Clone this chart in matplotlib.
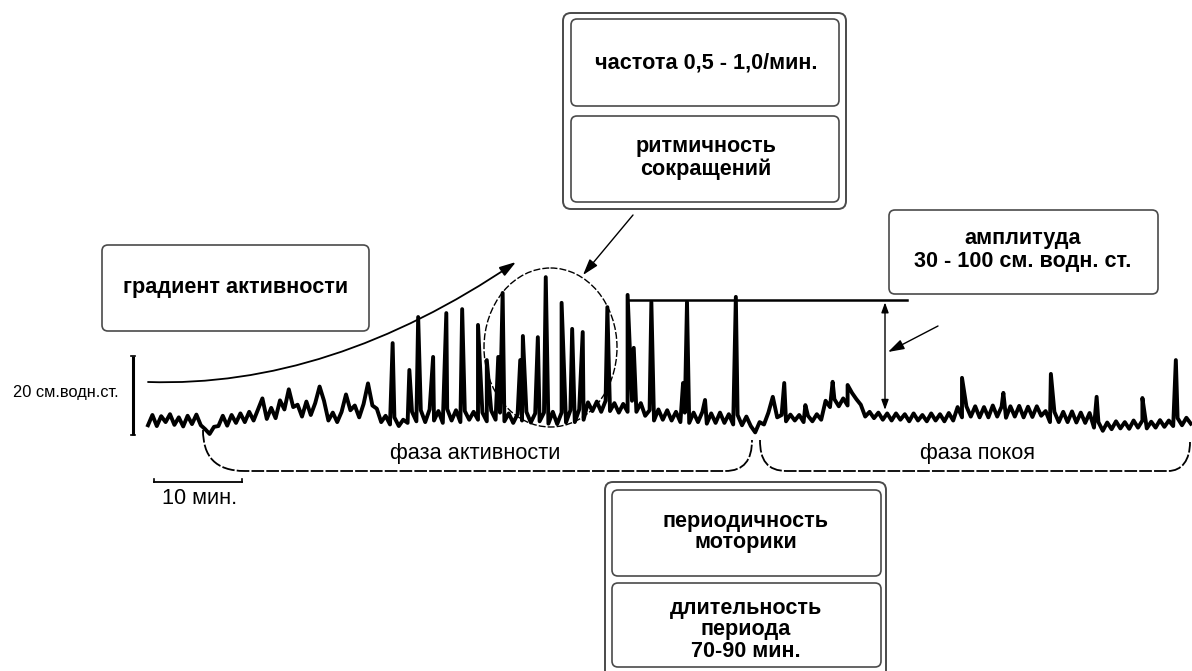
import numpy as np
import matplotlib
matplotlib.use("Agg")
import matplotlib.pyplot as plt
from matplotlib.patches import FancyBboxPatch, Ellipse, FancyArrowPatch, PathPatch
from matplotlib.path import Path

plt.rcParams['font.family'] = ['Liberation Sans', 'DejaVu Sans']

# ---------------------------------------------------------------
# Manometric record of the migrating motor complex
# pressure in cm H2O, sampled every 0.5 min
# ---------------------------------------------------------------
SAMPLE_STEP_MIN = 0.5
baseline_cm = [
    1.2, 3.8, 1.0, 3.5, 2.0, 4.0, 1.3, 3.2, 0.9, 3.6,
    1.5, 3.9, 1.2, 0.2, -1.0, 0.8, 1.0, 3.6, 1.1, 3.8,
    1.8, 4.2, 2.0, 4.6, 2.4, 5.2, 8.0, 2.8, 5.6, 3.0,
    7.5, 5.2, 10.3, 5.8, 6.4, 3.4, 7.2, 3.8, 6.8, 11.0,
    7.4, 2.4, 4.4, 2.0, 4.6, 9.0, 5.0, 6.2, 3.2, 6.6,
    11.8, 6.2, 5.4, 2.0, 3.6, 1.4, 3.2, 1.0, 2.6, 1.8,
    4.6, 2.2, 5.0, 2.0, 5.2, 2.4, 4.8, 1.8, 5.3, 2.4,
    5.0, 2.0, 4.8, 2.6, 4.6, 2.6, 4.4, 2.2, 4.9, 2.6,
    4.4, 2.2, 4.2, 1.8, 4.0, 2.4, 4.6, 1.9, 4.2, 2.2,
    4.4, 1.6, 4.6, 1.5, 4.4, 1.9, 5.0, 2.0, 5.2, 2.6,
    7.0, 4.8, 7.2, 4.6, 7.4, 4.8, 6.8, 4.4, 6.6, 4.6,
    7.4, 4.6, 6.8, 3.6, 5.0, 2.4, 5.2, 2.6, 5.0, 2.4,
    4.6, 2.0, 4.4, 1.8, 4.4, 2.0, 4.6, 1.6, 4.2, 1.8,
    4.4, 1.8, 4.0, 1.4, 3.8, 1.2, 3.4, 1.0, -0.6, 2.0,
    1.4, 4.4, 8.4, 3.2, 3.8, 2.2, 3.9, 2.4, 3.8, 2.0,
    3.6, 2.2, 4.0, 2.6, 7.4, 5.8, 7.8, 6.0, 8.0, 6.2,
    9.4, 7.8, 6.4, 3.4, 4.6, 3.0, 4.4, 2.6, 4.2, 2.4,
    4.2, 2.6, 4.0, 2.2, 4.2, 2.4, 3.8, 2.2, 4.2, 2.4,
    4.0, 2.2, 4.3, 2.4, 5.8, 3.2, 6.0, 3.4, 6.0, 3.2,
    5.8, 3.2, 6.2, 3.4, 5.9, 3.1, 6.0, 3.4, 6.1, 3.2,
    5.9, 3.3, 6.0, 3.6, 4.8, 2.0, 4.6, 2.0, 4.6, 2.0,
    4.7, 1.9, 4.4, 1.8, 4.3, 0.6, 2.0, -0.2, 1.9, 0.2,
    2.2, 0.4, 2.0, 0.3, 2.4, 0.6, 2.4, 0.4, 2.1, 0.6,
    2.5, 0.8, 2.4, 1.0, 3.0, 1.2, 3.1, 1.6,
]

# contraction peaks: time (min) and peak pressure (cm H2O)
spike_time_min = [
    27.8, 29.7, 30.7, 32.4, 33.9, 35.7, 37.5, 38.5, 39.8, 40.3,
    42.3, 42.6, 44.3, 45.2, 47.0, 48.2, 49.4, 52.2, 54.5, 55.2,
    57.2, 60.8, 61.25, 63.3, 66.8, 72.3, 74.7, 77.8, 79.5, 92.5,
    97.2, 102.6, 107.8, 113.0, 116.8,
]
spike_peak_cm = [
    22.0, 15.2, 28.6, 18.5, 29.6, 30.6, 26.6, 17.7, 18.5, 34.7,
    17.7, 23.8, 23.5, 38.7, 32.2, 25.6, 24.8, 31.1, 34.2, 20.8,
    32.4, 11.9, 32.4, 7.6, 33.7, 11.9, 6.3, 12.2, 11.4, 13.2,
    9.4, 14.2, 8.4, 8.1, 17.7,
]

# calibration bars and amplitude marker
TIME_BAR_MIN = 10
PRESSURE_BAR_CM = 20
amplitude_level_cm = 32.9
amplitude_line_end_min = 86.25
amplitude_arrow_min = 83.75
amplitude_arrow_base_cm = 5.1

# ---------------------------------------------------------------
W, H = 1192, 671
fig = plt.figure(figsize=(W / 100, H / 100), dpi=100)
fig.patch.set_facecolor('white')

# record axes (minutes / cm H2O)
ax = fig.add_axes([0, 0, 1, 1])
x0_px, px_per_min = 148.0, 8.8
y0_px, px_per_cm = 430.0, 3.95
ax.set_xlim(-x0_px / px_per_min, (W - x0_px) / px_per_min)
ax.set_ylim((y0_px - H) / px_per_cm, y0_px / px_per_cm)
ax.axis('off')

# overlay axes for the annotation layout (pixel units, y downward)
ov = fig.add_axes([0, 0, 1, 1])
ov.set_xlim(0, W)
ov.set_ylim(H, 0)
ov.axis('off')
ov.patch.set_alpha(0)

# --- the trace
t_base = np.arange(len(baseline_cm)) * SAMPLE_STEP_MIN
t_all = np.concatenate([t_base, spike_time_min])
p_all = np.concatenate([baseline_cm, spike_peak_cm])
order = np.argsort(t_all, kind='stable')
ax.plot(t_all[order], p_all[order], color='black', lw=2.8,
        solid_joinstyle='round', zorder=3)

# --- calibration bars
bar_t = -1.7
bar_p0 = -1.27
ax.plot([bar_t, bar_t], [bar_p0, bar_p0 + PRESSURE_BAR_CM], color='black', lw=2.2,
        solid_capstyle='butt')
for pp in (bar_p0, bar_p0 + PRESSURE_BAR_CM):
    ax.plot([bar_t - 0.25, bar_t + 0.25], [pp, pp], color='black', lw=1.2)
tb0, tb_p = 0.68, -13.2
ax.plot([tb0, tb0 + TIME_BAR_MIN], [tb_p, tb_p], color='black', lw=1.3)
for tt in (tb0, tb0 + TIME_BAR_MIN):
    ax.plot([tt, tt], [tb_p, tb_p + 0.9], color='black', lw=1.2)

REG_FS = 15.7
ov.text(119, 393, '20 см.водн.ст.', ha='right', va='center', fontsize=11.8)
ov.text(200, 498, '10 мин.', ha='center', va='center', fontsize=REG_FS)

# --- amplitude marker
ax.plot([spike_time_min[18], amplitude_line_end_min],
        [amplitude_level_cm, amplitude_level_cm], color='black', lw=1.8, zorder=4)
ax.annotate('', xy=(amplitude_arrow_min, amplitude_level_cm - 0.6),
            xytext=(amplitude_arrow_min, amplitude_arrow_base_cm),
            arrowprops=dict(arrowstyle='<|-|>,head_length=0.5,head_width=0.18',
                            lw=1.0, color='black', shrinkA=0, shrinkB=0,
                            mutation_scale=12))

# --- boxes
EDGE = '#4a4a4a'


def rbox(x1, y1, x2, y2, lw=1.2, r=6):
    ov.add_patch(FancyBboxPatch((x1, y1), x2 - x1, y2 - y1,
                                boxstyle=f'round,pad=0,rounding_size={r}',
                                fc='white', ec=EDGE, lw=lw, zorder=5))


BOX_FS = 15.6

rbox(102, 245, 369, 331)
ov.text(236, 287, 'градиент активности', ha='center', va='center',
        fontsize=BOX_FS, fontweight='bold', zorder=6)

rbox(563, 13, 846, 209, lw=1.4, r=8)
rbox(571, 19, 839, 106)
rbox(571, 116, 839, 202)
ov.text(706, 63, 'частота 0,5 - 1,0/мин.', ha='center', va='center',
        fontsize=BOX_FS, fontweight='bold', zorder=6)
ov.text(706, 158, 'ритмичность\nсокращений', ha='center', va='center',
        fontsize=BOX_FS, fontweight='bold', linespacing=1.13, zorder=6)

rbox(889, 210, 1158, 294)
ov.text(1023, 250, 'амплитуда\n30 - 100 см. водн. ст.', ha='center', va='center',
        fontsize=BOX_FS, fontweight='bold', linespacing=1.13, zorder=6)

rbox(605, 482, 886, 690, lw=1.4, r=8)
rbox(612, 490, 881, 576)
rbox(612, 583, 881, 667)
ov.text(746, 532, 'периодичность\nмоторики', ha='center', va='center',
        fontsize=BOX_FS, fontweight='bold', linespacing=1.05, zorder=6)
ov.text(746, 630, 'длительность\nпериода\n70-90 мин.', ha='center', va='center',
        fontsize=BOX_FS, fontweight='bold', linespacing=1.03, zorder=6)

# --- dashed ellipse around the rhythmic burst
ov.add_patch(Ellipse((550.5, 347.5), 133, 159, fill=False, ec='black', lw=1.0,
                     ls=(0, (5, 1.5)), zorder=4))

# --- arrows
grad = Path([(148, 382), (330, 388), (516, 262)],
            [Path.MOVETO, Path.CURVE3, Path.CURVE3])
ov.add_patch(FancyArrowPatch(path=grad, arrowstyle='-|>,head_length=0.7,head_width=0.22',
                             mutation_scale=14, lw=1.3, color='black', zorder=4))
ov.add_patch(FancyArrowPatch((633, 215), (583, 275),
                             arrowstyle='-|>,head_length=0.7,head_width=0.22',
                             mutation_scale=14, lw=1.0, color='black',
                             shrinkA=0, shrinkB=0, zorder=4))
ov.add_patch(FancyArrowPatch((938, 326), (888, 352),
                             arrowstyle='-|>,head_length=0.7,head_width=0.22',
                             mutation_scale=14, lw=1.0, color='black',
                             shrinkA=0, shrinkB=0, zorder=4))

# --- phase braces
brace_style = dict(fill=False, ec='black', lw=1.3, ls=(0, (7, 1.2)), zorder=4)
left = Path([(203, 430), (203, 456), (215, 471), (245, 471), (725, 471),
             (744, 471), (752, 460), (752, 440)],
            [Path.MOVETO, Path.CURVE4, Path.CURVE4, Path.CURVE4, Path.LINETO,
             Path.CURVE4, Path.CURVE4, Path.CURVE4])
right = Path([(760, 440), (760, 460), (767, 471), (787, 471), (1168, 471),
              (1182, 471), (1190, 460), (1190, 442)],
             [Path.MOVETO, Path.CURVE4, Path.CURVE4, Path.CURVE4, Path.LINETO,
              Path.CURVE4, Path.CURVE4, Path.CURVE4])
ov.add_patch(PathPatch(left, **brace_style))
ov.add_patch(PathPatch(right, **brace_style))
ov.text(475, 454, 'фаза активности', ha='center', va='center', fontsize=REG_FS)
ov.text(977, 454, 'фаза покоя', ha='center', va='center', fontsize=REG_FS)

fig.savefig('out.png', dpi=100, facecolor='white')
